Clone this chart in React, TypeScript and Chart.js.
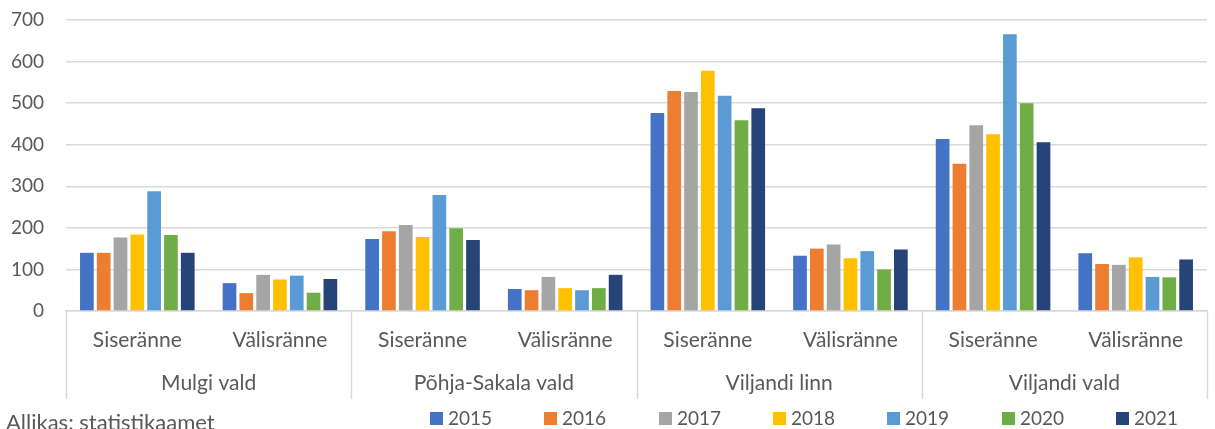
import React, { useEffect, useRef } from "react";
import { Chart, registerables } from "chart.js";

Chart.register(...registerables);

const groups = ["Mulgi vald", "Põhja-Sakala vald", "Viljandi linn", "Viljandi vald"];
const subs = ["Siseränne", "Välisränne"];
const categories = groups.flatMap(() => subs);
const years = ["2015", "2016", "2017", "2018", "2019", "2020", "2021"];
const colors = ["#4472C4", "#ED7D31", "#A5A5A5", "#FFC000", "#5B9BD5", "#70AD47", "#264478"];

// values per year, in order: Mulgi S, Mulgi V, PS S, PS V, VL S, VL V, VV S, VV V
const v2015 = [140, 67, 173, 53, 476, 133, 414, 139];
const v2016 = [140, 43, 192, 50, 529, 150, 354, 113];
const v2017 = [177, 87, 207, 82, 527, 160, 447, 111];
const v2018 = [184, 76, 178, 55, 578, 127, 425, 129];
const v2019 = [288, 85, 279, 50, 518, 144, 666, 82];
const v2020 = [183, 44, 199, 55, 459, 100, 500, 81];
const v2021 = [140, 77, 171, 87, 488, 148, 406, 124];
const series = [v2015, v2016, v2017, v2018, v2019, v2020, v2021];

const yTicks = [0, 100, 200, 300, 400, 500, 600, 700];
const sourceText = "Allikas: statistikaamet";

const FONT = "Lato, 'Open Sans', sans-serif";
const TEXT = "#595959";
const GRID = "#d9d9d9";

const decorPlugin = {
  id: "decor",
  afterDraw(chart: any) {
    const ctx = chart.ctx;
    const area = chart.chartArea;
    const x = chart.scales.x;
    ctx.save();
    // group separators
    ctx.strokeStyle = GRID;
    ctx.lineWidth = 1.5;
    for (let k = 0; k <= groups.length; k++) {
      const px =
        k === 0
          ? area.left
          : k === groups.length
          ? area.right
          : (x.getPixelForValue(k * 2 - 1) + x.getPixelForValue(k * 2)) / 2;
      ctx.beginPath();
      ctx.moveTo(Math.round(px) + 0.5, area.bottom);
      ctx.lineTo(Math.round(px) + 0.5, 399);
      ctx.stroke();
    }
    // legend
    ctx.font = `19px ${FONT}`;
    ctx.textBaseline = "middle";
    ctx.textAlign = "left";
    chart.data.datasets.forEach((ds: any, i: number) => {
      const bx = 430 + i * 114.3;
      ctx.fillStyle = ds.backgroundColor;
      ctx.fillRect(Math.round(bx), 412, 13, 13);
      ctx.fillStyle = TEXT;
      ctx.fillText(ds.label, Math.round(bx) + 18, 419);
    });
    // source
    ctx.font = `22px ${FONT}`;
    ctx.fillStyle = TEXT;
    ctx.textBaseline = "top";
    ctx.fillText(sourceText, 6, 412);
    ctx.restore();
  },
};

export default function App() {
  const ref = useRef<HTMLCanvasElement | null>(null);
  useEffect(() => {
    document.body.style.margin = "0";
    if (!ref.current) return;
    const chart = new Chart(ref.current, {
      type: "bar",
      data: {
        labels: categories,
        datasets: years.map((y, i) => ({
          label: y,
          data: series[i],
          backgroundColor: colors[i],
          categoryPercentage: 0.825,
          barPercentage: 0.815,
        })),
      },
      options: {
        animation: false,
        responsive: false,
        devicePixelRatio: 1,
        layout: { padding: { left: 0, right: 8, top: 20, bottom: 24 } },
        plugins: { legend: { display: false }, tooltip: { enabled: false } },
        scales: {
          y: {
            min: 0,
            max: 700,
            afterBuildTicks: (s: any) => {
              s.ticks = yTicks.map((v) => ({ value: v }));
            },
            afterFit: (s: any) => {
              s.width = 66;
              s.paddingTop = 0;
              s.paddingBottom = 0;
            },
            grid: { color: GRID, lineWidth: 1.5, drawTicks: false },
            border: { display: false },
            ticks: { font: { size: 19, family: FONT }, color: TEXT, padding: 22 },
          },
          x: {
            type: "category",
            afterFit: (s: any) => {
              s.height = 50;
            },
            grid: { display: false },
            border: { display: true, color: GRID, width: 1.5 },
            ticks: { font: { size: 21, family: FONT }, color: TEXT, padding: 9, maxRotation: 0, autoSkip: false },
          },
          x2: {
            type: "category",
            position: "bottom",
            labels: groups,
            afterFit: (s: any) => {
              s.height = 44;
            },
            grid: { display: false },
            border: { display: false },
            ticks: { font: { size: 21, family: FONT }, color: TEXT, padding: 2, maxRotation: 0, autoSkip: false },
          },
        },
      },
      plugins: [decorPlugin],
    });
    return () => chart.destroy();
  }, []);
  return <canvas ref={ref} width={1215} height={429} style={{ display: "block" }} />;
}
